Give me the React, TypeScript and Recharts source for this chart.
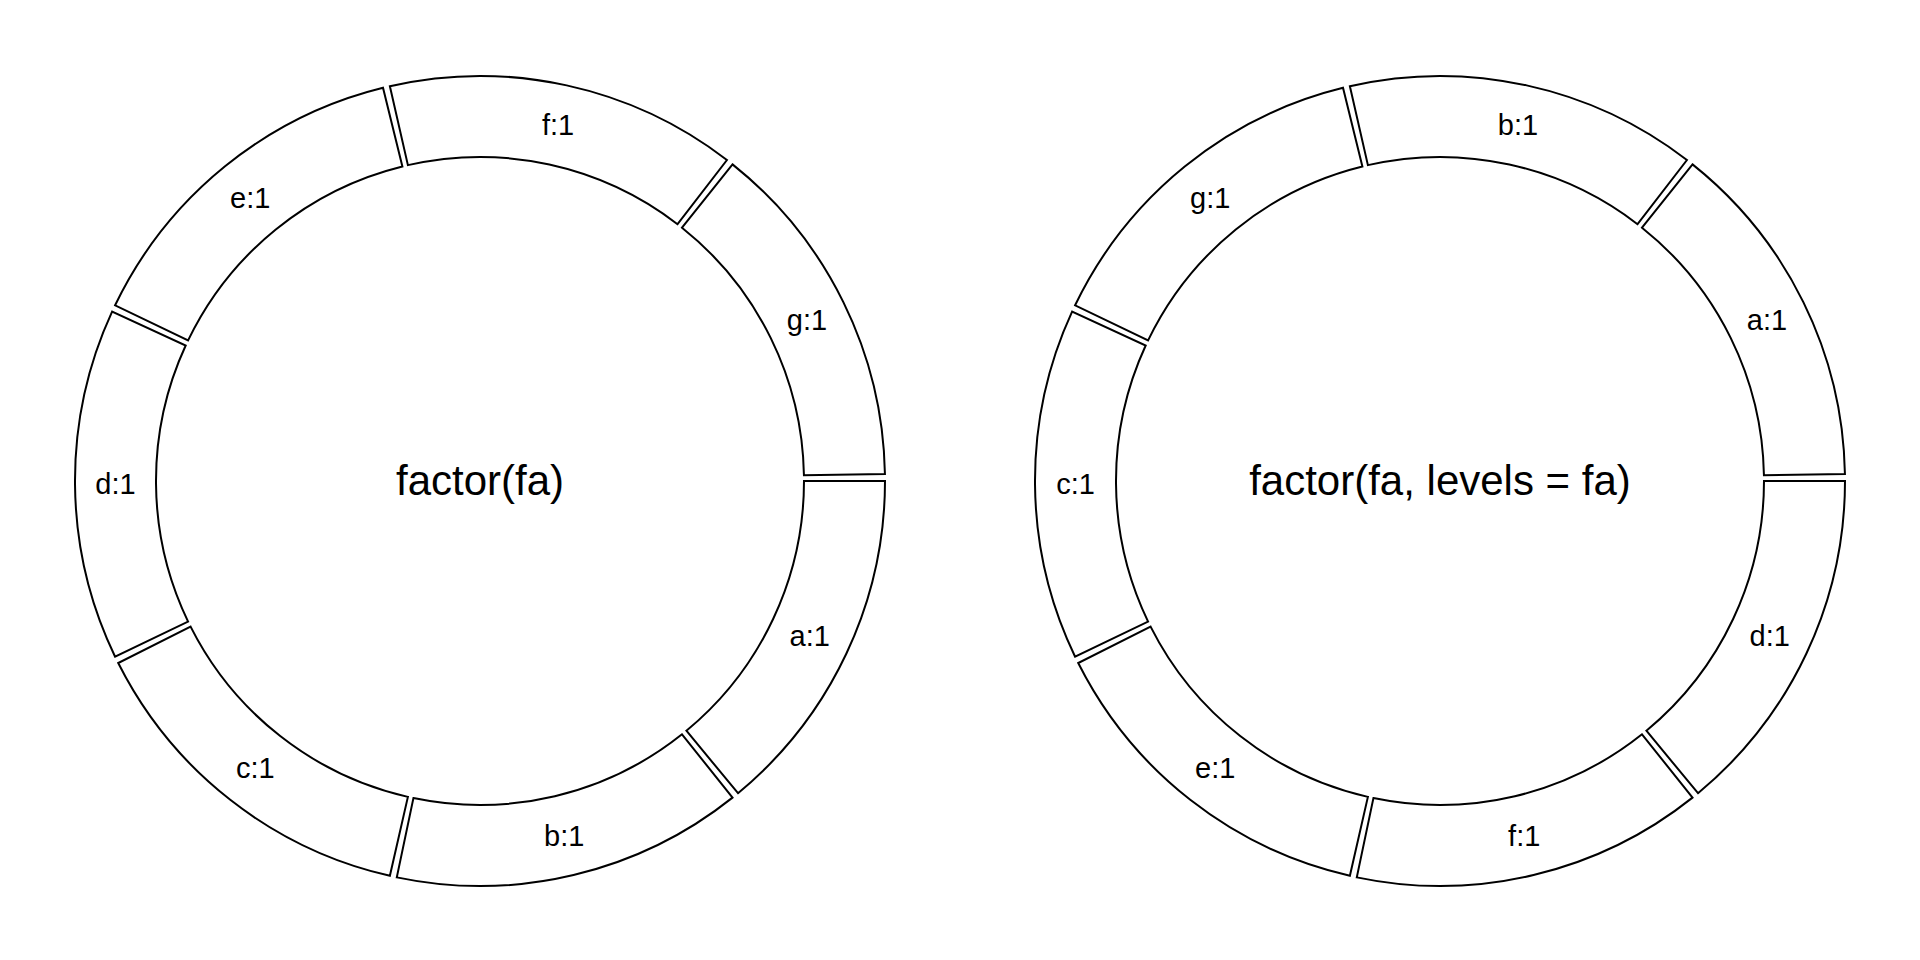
import { PieChart, Pie, Cell, Label } from "recharts";

// slices listed clockwise from 3 o'clock
const leftCategories = ["a", "b", "c", "d", "e", "f", "g"];
const leftValues = [1, 1, 1, 1, 1, 1, 1];
const rightCategories = ["d", "f", "e", "c", "g", "b", "a"];
const rightValues = [1, 1, 1, 1, 1, 1, 1];
const leftTitle = "factor(fa)";
const rightTitle = "factor(fa, levels = fa)";

const FONT = "'Liberation Sans', Arial, sans-serif";
const RADIAN = Math.PI / 180;

const toRows = (cats: string[], vals: number[]) =>
  cats.map((c, i) => ({ name: c, value: vals[i], label: `${c}:${vals[i]}` }));

const leftData = toRows(leftCategories, leftValues);
const rightData = toRows(rightCategories, rightValues);

function sliceLabel(props: any) {
  const { cx, cy, midAngle, innerRadius, outerRadius, payload } = props;
  const r = (innerRadius + outerRadius) / 2;
  const x = cx + r * Math.cos(-midAngle * RADIAN);
  const y = cy + r * Math.sin(-midAngle * RADIAN);
  return (
    <text
      x={x}
      y={y}
      textAnchor="middle"
      dominantBaseline="central"
      fill="#000"
      fontSize={29}
      fontFamily={FONT}
    >
      {payload.label}
    </text>
  );
}

function Ring({ data, title }: { data: any[]; title: string }) {
  return (
    <PieChart width={960} height={960} margin={{ top: 0, right: 0, bottom: 0, left: 0 }}>
      <Pie
        data={data}
        dataKey="value"
        nameKey="name"
        cx={480}
        cy={481}
        innerRadius={324}
        outerRadius={405}
        startAngle={0}
        endAngle={-360}
        paddingAngle={1}
        stroke="#000"
        strokeWidth={2}
        label={sliceLabel}
        labelLine={false}
        isAnimationActive={false}
      >
        {data.map((d, i) => (
          <Cell key={`cell-${i}`} fill="#fff" stroke="#000" />
        ))}
        <Label value={title} position="center" fill="#000" fontSize={42} fontFamily={FONT} />
      </Pie>
    </PieChart>
  );
}

export default function App() {
  return (
    <div
      style={{
        position: "absolute",
        left: 0,
        top: 0,
        width: 1920,
        height: 960,
        display: "flex",
        background: "#fff",
        fontFamily: FONT,
      }}
    >
      <Ring data={leftData} title={leftTitle} />
      <Ring data={rightData} title={rightTitle} />
    </div>
  );
}
